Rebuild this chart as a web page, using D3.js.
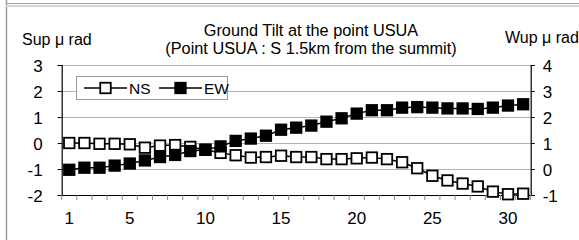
<!DOCTYPE html>
<html>
<head>
<meta charset="utf-8">
<script src="https://cdn.jsdelivr.net/npm/d3@7"></script>
<style>
  body { margin: 0; background: #fff; }
  text { font-family: "Liberation Sans", Arial, sans-serif; fill: #000; }
</style>
</head>
<body>
<svg id="chart" width="579" height="240"></svg>
<script>
const days = d3.range(1, 32)
const nsValues = [0, 0, -0.03, -0.03, -0.05, -0.18, -0.1, -0.08, -0.15, -0.26,
    -0.38, -0.47, -0.56, -0.54, -0.49, -0.54, -0.54, -0.62, -0.62, -0.59,
    -0.56, -0.62, -0.74, -0.97, -1.26, -1.44, -1.56, -1.67, -1.87, -1.97, -1.95]
const ewValues = [-0.03, 0.05, 0.05, 0.13, 0.21, 0.33, 0.46, 0.54, 0.69, 0.74,
    0.87, 1.08, 1.17, 1.28, 1.51, 1.59, 1.67, 1.82, 1.95, 2.13,
    2.26, 2.26, 2.36, 2.38, 2.36, 2.33, 2.33, 2.31, 2.36, 2.44, 2.49]
const xTickLabels = [1, 5, 10, 15, 20, 25, 30]
const leftTicks = [-2, -1, 0, 1, 2, 3]
const rightTicks = [-1, 0, 1, 2, 3, 4]
const titleLines = ["Ground Tilt at the point USUA", "(Point USUA : S 1.5km from the summit)"]

const plotLeft = 61.7, plotRight = 530.7, plotTop = 65, plotBottom = 195
const markerSize = 10.5

const svg = d3.select('#chart')

// frame of the cropped chart area
svg.append('line').attr('x1', 6.5).attr('x2', 6.5).attr('y1', 0).attr('y2', 240)
    .attr('stroke', '#a0a0a0').attr('stroke-width', 1.5)
svg.append('line').attr('x1', 6).attr('x2', 579).attr('y1', 3.5).attr('y2', 3.5)
    .attr('stroke', '#a0a0a0').attr('stroke-width', 1.2)
svg.append('line').attr('x1', 6).attr('x2', 579).attr('y1', 6).attr('y2', 6)
    .attr('stroke', '#d6d6d6').attr('stroke-width', 2)

const x = d3.scaleBand().domain(days).range([plotLeft, plotRight])
const yLeft = d3.scaleLinear().domain([-2, 3]).range([plotBottom, plotTop])
const yRight = d3.scaleLinear().domain([-1, 4]).range([plotBottom, plotTop])
const cx = d => x(d) + x.bandwidth() / 2
const plain = d => String(d)

// gridlines
svg.append('g').selectAll('line')
    .data(leftTicks.filter(t => t > -2))
    .enter().append('line')
    .attr('x1', plotLeft).attr('x2', plotRight)
    .attr('y1', d => Math.round(yLeft(d)) + 0.5)
    .attr('y2', d => Math.round(yLeft(d)) + 0.5)
    .attr('stroke', '#b4b4b4').attr('stroke-width', 1)

// axes
const leftAxis = svg.append('g')
    .attr('transform', `translate(${plotLeft},0)`)
    .call(d3.axisLeft(yLeft).tickValues(leftTicks).tickFormat(plain).tickSize(4).tickPadding(15))
const rightAxis = svg.append('g')
    .attr('transform', `translate(${plotRight},0)`)
    .call(d3.axisRight(yRight).tickValues(rightTicks).tickFormat(plain).tickSize(4).tickPadding(8))
const bottomAxis = svg.append('g')
    .attr('transform', `translate(0,${plotBottom})`)
    .call(d3.axisBottom(x).tickValues([]).tickSize(0))

for (const ax of [leftAxis, rightAxis, bottomAxis]) {
    ax.select('.domain').attr('stroke', '#000').attr('stroke-width', 1.2)
    ax.selectAll('.tick line').attr('stroke', '#000')
    ax.selectAll('.tick text').style('font-size', '17px')
        .style('font-family', '"Liberation Sans", Arial, sans-serif')
}
leftAxis.selectAll('.tick text').attr('dy', '0.36em')
rightAxis.selectAll('.tick text').attr('dy', '0.36em')

// category boundary ticks below x axis
svg.append('g').selectAll('line')
    .data(days.concat([32]))
    .enter().append('line')
    .attr('x1', d => d <= 31 ? x(d) : plotRight)
    .attr('x2', d => d <= 31 ? x(d) : plotRight)
    .attr('y1', plotBottom).attr('y2', plotBottom + 5)
    .attr('stroke', '#888').attr('stroke-width', 1)

svg.append('g').selectAll('text')
    .data(xTickLabels)
    .enter().append('text')
    .attr('x', d => cx(d)).attr('y', 224)
    .attr('text-anchor', 'middle')
    .style('font-size', '17px')
    .text(d => d)

// titles
svg.append('g').selectAll('text')
    .data(titleLines)
    .enter().append('text')
    .attr('x', 311).attr('y', (d, i) => 36 + i * 18)
    .attr('text-anchor', 'middle')
    .style('font-size', '16.3px')
    .text(d => d)
svg.append('text').attr('x', 22).attr('y', 45).style('font-size', '16px').text('Sup μ rad')
svg.append('text').attr('x', 505).attr('y', 43).style('font-size', '16px').text('Wup μ rad')

// series
const series = [
    {name: 'NS', values: nsValues, y: yLeft, fill: '#fff'},
    {name: 'EW', values: ewValues, y: yRight, fill: '#000'}
]

series.forEach(s => {
    const g = svg.append('g')
    g.append('path')
        .datum(days)
        .attr('fill', 'none').attr('stroke', '#000').attr('stroke-width', 1.5)
        .attr('d', d3.line().x(d => cx(d)).y((d, i) => s.y(s.values[i])))
    g.selectAll('rect')
        .data(days)
        .enter().append('rect')
        .attr('x', d => cx(d) - markerSize / 2)
        .attr('y', (d, i) => s.y(s.values[i]) - markerSize / 2)
        .attr('width', markerSize).attr('height', markerSize)
        .attr('fill', s.fill).attr('stroke', '#000').attr('stroke-width', 1.8)
})

// legend
const legend = svg.append('g')
legend.append('rect')
    .attr('x', 76.5).attr('y', 76.5).attr('width', 151).attr('height', 23)
    .attr('fill', '#fff').attr('stroke', '#999').attr('stroke-width', 1)
const legendItems = legend.selectAll('.item')
    .data(series)
    .enter().append('g')
    .attr('class', 'item')
    .attr('transform', (d, i) => `translate(${84 + i * 75},88)`)
legendItems.append('line')
    .attr('x1', 0).attr('x2', 43).attr('y1', 0).attr('y2', 0)
    .attr('stroke', '#000').attr('stroke-width', 1.5)
legendItems.append('rect')
    .attr('x', 21.5 - markerSize / 2).attr('y', -markerSize / 2)
    .attr('width', markerSize).attr('height', markerSize)
    .attr('fill', d => d.fill).attr('stroke', '#000').attr('stroke-width', 1.8)
legendItems.append('text')
    .attr('x', 45).attr('y', 5.5)
    .style('font-size', '15.5px')
    .text(d => d.name)
</script>
</body>
</html>
